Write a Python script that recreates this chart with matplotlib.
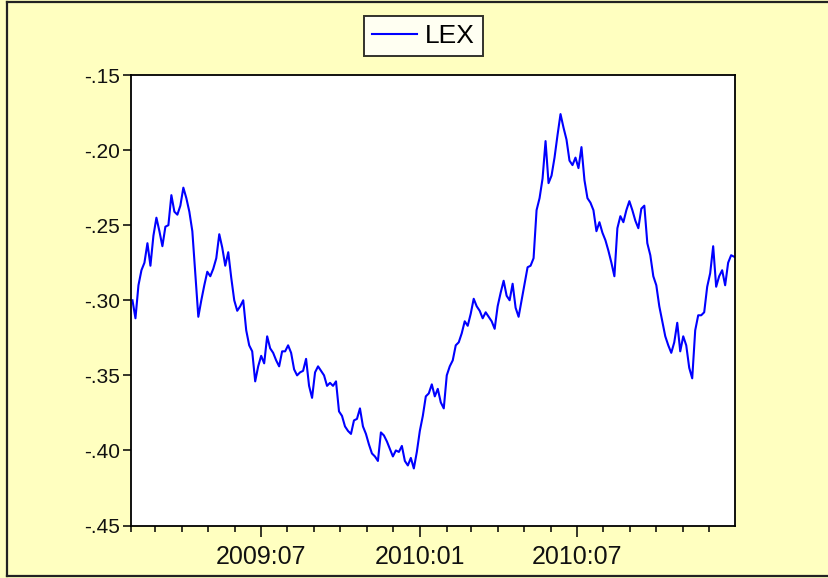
import matplotlib
matplotlib.use('Agg')
import matplotlib.pyplot as plt
import matplotlib.dates as mdates
from matplotlib.lines import Line2D
from matplotlib.ticker import FuncFormatter, MultipleLocator
import pandas as pd

# LEX series (roughly every 3.5 days)
lex = [
    -0.300, -0.312, -0.290, -0.280, -0.275, -0.262, -0.277, -0.257, -0.245, -0.254,
    -0.264, -0.251, -0.250, -0.230, -0.241, -0.243, -0.237, -0.225, -0.232, -0.241,
    -0.254, -0.282, -0.311, -0.300, -0.290, -0.281, -0.284, -0.279, -0.272, -0.256,
    -0.265, -0.277, -0.268, -0.285, -0.300, -0.307, -0.304, -0.300, -0.320, -0.330,
    -0.334, -0.354, -0.344, -0.337, -0.342, -0.324, -0.332, -0.335, -0.340, -0.344,
    -0.334, -0.334, -0.330, -0.335, -0.346, -0.350, -0.348, -0.347, -0.339, -0.357,
    -0.365, -0.348, -0.344, -0.347, -0.350, -0.357, -0.355, -0.357, -0.354, -0.374,
    -0.377, -0.384, -0.387, -0.389, -0.380, -0.379, -0.372, -0.384, -0.389, -0.396,
    -0.402, -0.404, -0.407, -0.388, -0.390, -0.394, -0.399, -0.404, -0.400, -0.401,
    -0.397, -0.407, -0.410, -0.405, -0.412, -0.401, -0.387, -0.377, -0.364, -0.362,
    -0.356, -0.364, -0.359, -0.368, -0.372, -0.350, -0.344, -0.340, -0.330, -0.328,
    -0.322, -0.314, -0.317, -0.309, -0.299, -0.304, -0.307, -0.312, -0.308, -0.311,
    -0.314, -0.319, -0.304, -0.295, -0.287, -0.297, -0.300, -0.289, -0.305, -0.311,
    -0.300, -0.289, -0.278, -0.277, -0.272, -0.240, -0.232, -0.219, -0.194, -0.222,
    -0.217, -0.205, -0.190, -0.176, -0.185, -0.193, -0.207, -0.210, -0.205, -0.212,
    -0.198, -0.220, -0.232, -0.235, -0.240, -0.254, -0.248, -0.255, -0.260, -0.267,
    -0.275, -0.284, -0.252, -0.244, -0.248, -0.240, -0.234, -0.240, -0.247, -0.252,
    -0.239, -0.237, -0.262, -0.270, -0.284, -0.290, -0.304, -0.314, -0.324, -0.330,
    -0.335, -0.328, -0.315, -0.334, -0.324, -0.330, -0.345, -0.352, -0.320, -0.310,
    -0.310, -0.308, -0.291, -0.282, -0.264, -0.291, -0.284, -0.280, -0.290, -0.275,
    -0.270, -0.271,
]
dates = pd.date_range('2009-02-03', '2010-12-30', periods=len(lex))

yticks = [-0.45, -0.40, -0.35, -0.30, -0.25, -0.20, -0.15]

bg = '#FFFFC0'

fig = plt.figure(figsize=(8.29, 5.78), dpi=100, facecolor=bg)
ax = fig.add_axes([0.1577, 0.0908, 0.7289, 0.7794])
ax.set_facecolor('white')

ax.plot(dates, lex, color='#0000FF', linewidth=1.5, label='LEX')

# axes limits / ticks
ax.set_ylim(yticks[0], yticks[-1])
ax.set_yticks(yticks)
ax.yaxis.set_major_formatter(FuncFormatter(lambda v, p: f"{v:.2f}".replace('0.', '.')))
ax.set_xlim(pd.Timestamp('2009-02-01'), pd.Timestamp('2010-12-31'))
ax.xaxis.set_major_locator(mdates.MonthLocator(bymonth=[1, 7]))
ax.xaxis.set_major_formatter(mdates.DateFormatter('%Y:%m'))
ax.xaxis.set_minor_locator(mdates.MonthLocator())

ax.tick_params(axis='x', which='major', direction='out', length=8, width=1.1,
               labelsize=18, pad=6, colors='black')
ax.tick_params(axis='x', which='minor', direction='out', length=4.3, width=1.1)
ax.tick_params(axis='y', direction='out', length=5.8, width=1.1, labelsize=15, pad=2)
for lab in ax.get_xticklabels() + ax.get_yticklabels():
    lab.set_family('Liberation Sans')
    lab.set_color('#111111')
for s in ax.spines.values():
    s.set_color('black')
    s.set_linewidth(1.3)

# legend box on top
leg = fig.legend(loc='center', bbox_to_anchor=(0.511, 0.938), frameon=True,
                 fancybox=False, handlelength=1.7, handletextpad=0.3,
                 borderpad=0.3, prop={'family': 'Liberation Sans', 'size': 19})
leg.get_frame().set_edgecolor('black')
leg.get_frame().set_linewidth(1.4)
leg.get_frame().set_facecolor('white')

# outer frame (left, top, bottom)
W, H = 829, 578
for xs, ys in [((7, 7), (2, 576)), ((7, 829), (2, 2)), ((7, 829), (576, 576))]:
    fig.add_artist(Line2D([x / W for x in xs], [1 - y / H for y in ys],
                          transform=fig.transFigure, color='#222222', linewidth=1.6))

fig.savefig('out.png', dpi=100, facecolor=bg)
